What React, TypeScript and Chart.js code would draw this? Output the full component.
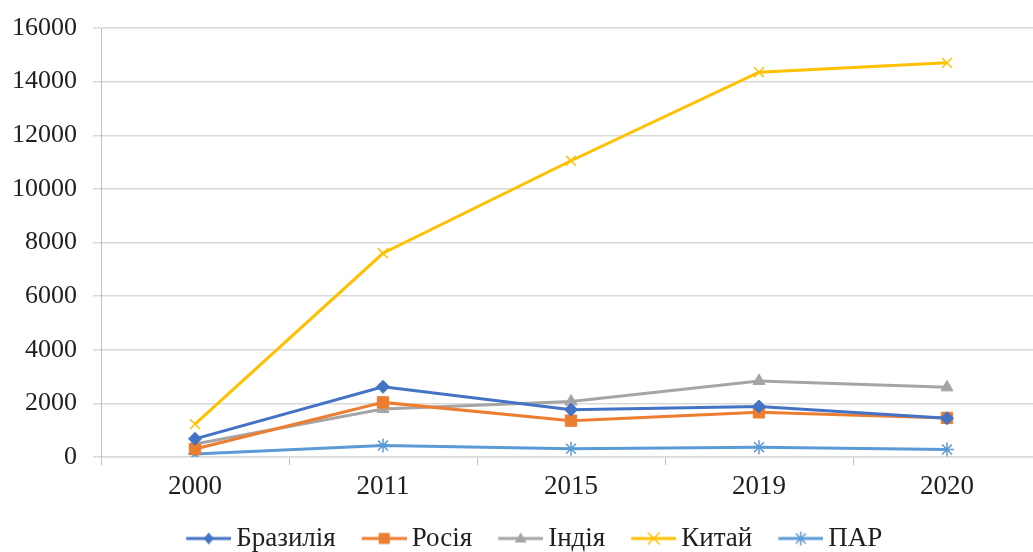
import React, { useEffect, useRef } from "react";
import { Chart, registerables } from "chart.js";
Chart.register(...registerables);

const categories = ["2000", "2011", "2015", "2019", "2020"];
const brazil = [680, 2620, 1770, 1890, 1450];
const russia = [300, 2040, 1360, 1670, 1460];
const india = [490, 1790, 2070, 2840, 2600];
const china = [1230, 7600, 11050, 14350, 14700];
const par = [120, 430, 310, 370, 285];
const seriesNames = ["Бразилія", "Росія", "Індія", "Китай", "ПАР"];
const seriesColors = ["#4472C4", "#ED7D31", "#A5A5A5", "#FFC000", "#5B9BD5"];
const seriesMarkers = ["rectRot", "rect", "triangle", "crossRot", "star"];
const yMin = 0;
const yMax = 16000;
const yStep = 2000;

const FONT = "'Liberation Serif', 'Times New Roman', serif";
const TEXT = "#1f1f1f";

function legendIcon(color: string, marker: string): HTMLCanvasElement {
  const c = document.createElement("canvas");
  c.width = 64;
  c.height = 20;
  const ctx = c.getContext("2d")!;
  ctx.strokeStyle = color;
  ctx.fillStyle = color;
  ctx.lineWidth = 3;
  ctx.beginPath();
  ctx.moveTo(19, 10);
  ctx.lineTo(64, 10);
  ctx.stroke();
  const cx = 41.5, cy = 10;
  ctx.lineWidth = 1.5;
  ctx.beginPath();
  if (marker === "rectRot") {
    ctx.moveTo(cx, cy - 6); ctx.lineTo(cx + 5, cy); ctx.lineTo(cx, cy + 6); ctx.lineTo(cx - 5, cy); ctx.closePath(); ctx.fill();
  } else if (marker === "rect") {
    ctx.rect(cx - 5.5, cy - 5.5, 11, 11); ctx.fill();
  } else if (marker === "triangle") {
    ctx.moveTo(cx, cy - 6); ctx.lineTo(cx + 6, cy + 4); ctx.lineTo(cx - 6, cy + 4); ctx.closePath(); ctx.fill();
  } else if (marker === "crossRot") {
    ctx.moveTo(cx - 6, cy - 6); ctx.lineTo(cx + 6, cy + 6); ctx.moveTo(cx + 6, cy - 6); ctx.lineTo(cx - 6, cy + 6); ctx.stroke();
  } else {
    ctx.moveTo(cx - 5, cy - 5); ctx.lineTo(cx + 5, cy + 5); ctx.moveTo(cx + 5, cy - 5); ctx.lineTo(cx - 5, cy + 5);
    ctx.moveTo(cx, cy - 7); ctx.lineTo(cx, cy + 7); ctx.stroke();
  }
  return c;
}

const legendShift = {
  id: "legendShift",
  afterLayout(chart: any) {
    const l = chart.legend;
    if (l) { l.left += 6; l.right += 6; }
  },
};

export default function App() {
  const ref = useRef<HTMLCanvasElement>(null);
  useEffect(() => {
    document.body.style.margin = "0";
    const values = [brazil, russia, india, china, par];
    const icons = seriesNames.map((_, i) => legendIcon(seriesColors[i], seriesMarkers[i]));
    const chart = new Chart(ref.current!, {
      type: "line",
      data: {
        labels: categories,
        datasets: seriesNames.map((name, i) => ({
          label: name,
          data: values[i],
          borderColor: seriesColors[i],
          backgroundColor: seriesColors[i],
          borderWidth: 3,
          pointStyle: seriesMarkers[i] as any,
          pointRadius: i === 1 ? 8 : i === 0 ? 6.5 : 7,
          pointBorderWidth: i >= 3 ? 1.5 : 1,
          pointBackgroundColor: seriesColors[i],
          pointBorderColor: seriesColors[i],
          tension: 0,
        })),
      },
      plugins: [legendShift],
      options: {
        responsive: false,
        animation: false,
        layout: { padding: { top: 28, right: 4, bottom: 0, left: 0 } },
        plugins: {
          tooltip: { enabled: false },
          legend: {
            position: "bottom",
            labels: {
              font: { family: FONT, size: 27 },
              color: TEXT,
              usePointStyle: true,
              pointStyleWidth: 47,
              padding: 15.5,
              generateLabels: (ch: any) =>
                ch.data.datasets.map((d: any, i: number) => ({
                  text: d.label,
                  pointStyle: icons[i],
                  fillStyle: seriesColors[i],
                  strokeStyle: seriesColors[i],
                  lineWidth: 0,
                  hidden: false,
                  datasetIndex: i,
                  fontColor: TEXT,
                })),
            },
          },
        },
        scales: {
          x: {
            offset: true,
            grid: { offset: true, drawOnChartArea: false, drawTicks: true, tickLength: 8, color: "#BFBFBF" },
            border: { display: true, color: "#D9D9D9", width: 1.5 },
            ticks: { font: { family: FONT, size: 27 }, color: TEXT, padding: 6 },
          },
          y: {
            min: yMin,
            max: yMax,
            afterFit: (s: any) => { s.width = 101; s.paddingTop = 0; s.paddingBottom = 0; },
            ticks: {
              stepSize: yStep,
              font: { family: FONT, size: 26 },
              color: TEXT,
              padding: 16,
              callback: (v: any) => String(v),
            },
            grid: { color: "#D9D9D9", lineWidth: 1.5, tickLength: 8, drawTicks: true },
            border: { display: true, color: "#BFBFBF", width: 1 },
          },
        },
      },
    });
    return () => chart.destroy();
  }, []);
  return (
    <div style={{ position: "fixed", left: 0, top: 0, width: 1033, height: 552, overflow: "hidden", background: "#fff" }}>
      <canvas ref={ref} width={1050} height={562} style={{ display: "block" }} />
    </div>
  );
}
